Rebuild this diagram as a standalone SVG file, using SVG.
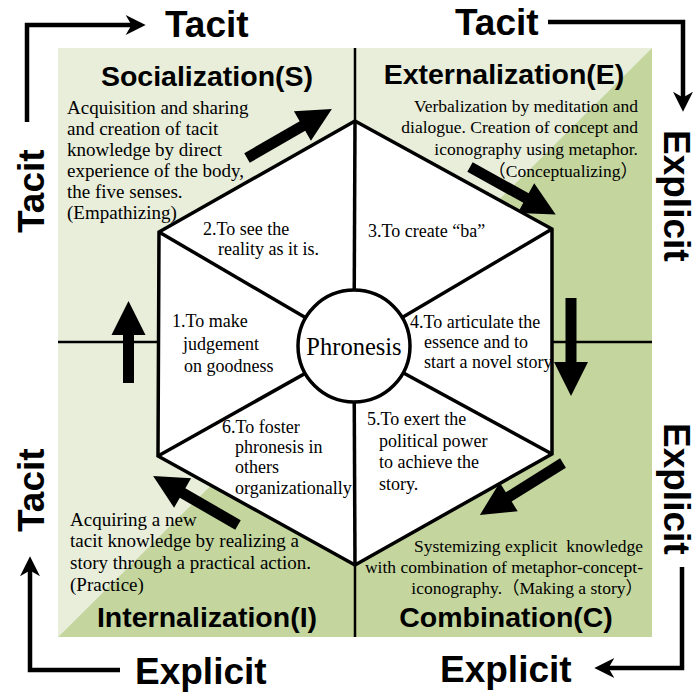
<svg xmlns="http://www.w3.org/2000/svg" width="696" height="696" viewBox="0 0 696 696">
  <style>
    .title { font-family: "Liberation Sans", Arial, sans-serif; font-weight: bold; font-size: 28.5px; fill: #000; }
    .axis { font-family: "Liberation Sans", Arial, sans-serif; font-weight: bold; font-size: 37px; fill: #000; }
    .desc { font-family: "Liberation Serif", "Times New Roman", "Noto Sans CJK JP", serif; font-size: 19px; fill: #000; }
    .desc.sm { font-size: 17.5px; }
    .lbl { font-family: "Liberation Serif", "Times New Roman", serif; font-size: 18px; fill: #000; }
    .core { font-family: "Liberation Serif", "Times New Roman", serif; font-size: 24.5px; fill: #000; }
    .divider { stroke: #000; stroke-width: 2.5; fill: none; }
    .edge { stroke: #000; stroke-width: 3.5; fill: none; stroke-linejoin: miter; }
    .face { stroke: #000; stroke-width: 3.5; fill: #fff; stroke-linejoin: miter; }
    .flow { stroke: #000; stroke-width: 4.5; fill: none; }
    .fat { fill: #000; }
  </style>
  <defs>
    <marker id="head" markerUnits="userSpaceOnUse" markerWidth="30" markerHeight="28" viewBox="-26 -14 36 28" refX="-8" refY="0" orient="auto">
      <path d="M0,0 L-24,-12 L-17,0 L-24,12 Z" fill="#000"/>
    </marker>
    <!-- block arrow pointing along +x, tail at origin -->
    <polygon id="fatLong" points="0,-5.5 64,-5.5 64,-17 98,0 64,17 64,5.5 0,5.5"/>
    <polygon id="fatShort" points="0,-5.5 48,-5.5 48,-17 82,0 48,17 48,5.5 0,5.5"/>
  </defs>

  <!-- quadrant background -->
  <g id="background">
    <polygon points="58,48 652,48 58,637" fill="#e8eeda"/>
    <polygon points="652,48 652,637 58,637" fill="#c4d69e"/>
    <line class="divider" x1="355" y1="48" x2="355" y2="637"/>
    <line class="divider" x1="58" y1="342" x2="652" y2="342"/>
  </g>

  <!-- outer tacit/explicit cycle -->
  <g id="connectors">
    <path class="flow" d="M27,122 V25 H139" marker-end="url(#head)"/>
    <path class="flow" d="M548,22 H683 V105" marker-end="url(#head)"/>
    <path class="flow" d="M682,567 V668 H601" marker-end="url(#head)"/>
    <path class="flow" d="M120,670 H30 V563" marker-end="url(#head)"/>
    <use href="#fatLong" class="fat" transform="translate(247,158) rotate(-30)"/>
    <use href="#fatLong" class="fat" transform="translate(470,167) rotate(29)"/>
    <use href="#fatLong" class="fat" transform="translate(571,298) rotate(90)"/>
    <use href="#fatLong" class="fat" transform="translate(563,463) rotate(148)"/>
    <use href="#fatLong" class="fat" transform="translate(238,525) rotate(210)"/>
    <use href="#fatShort" class="fat" transform="translate(128.5,383) rotate(-90)"/>
  </g>

  <g id="axis-labels">
    <text class="axis" x="165" y="37">Tacit</text>
    <text class="axis" x="455" y="35">Tacit</text>
    <text class="axis" x="135" y="684">Explicit</text>
    <text class="axis" x="440" y="682">Explicit</text>
    <text class="axis" transform="translate(664,130) rotate(90)">Explicit</text>
    <text class="axis" transform="translate(664,423) rotate(90)">Explicit</text>
    <text class="axis" transform="translate(44,233) rotate(-90)">Tacit</text>
    <text class="axis" transform="translate(44,532) rotate(-90)">Tacit</text>
  </g>

  <g id="socialization">
    <text class="title" x="207" y="86" text-anchor="middle">Socialization(S)</text>
    <text class="desc" x="67" y="114">Acquisition and sharing</text>
    <text class="desc" x="67" y="135">and creation of tacit</text>
    <text class="desc" x="67" y="156">knowledge by direct</text>
    <text class="desc" x="67" y="177">experience of the body,</text>
    <text class="desc" x="67" y="198">the five senses.</text>
    <text class="desc" x="67" y="219">(Empathizing)</text>
  </g>

  <g id="externalization">
    <text class="title" x="504" y="84" text-anchor="middle">Externalization(E)</text>
    <text class="desc sm" x="638" y="112" text-anchor="end">Verbalization by meditation and</text>
    <text class="desc sm" x="638" y="133" text-anchor="end">dialogue. Creation of concept and</text>
    <text class="desc sm" x="638" y="155" text-anchor="end">iconography using metaphor.</text>
    <text class="desc sm" x="638" y="177" text-anchor="end">（Conceptualizing）</text>
  </g>

  <g id="internalization">
    <text class="desc" x="70" y="526">Acquiring a new</text>
    <text class="desc" x="70" y="547">tacit knowledge by realizing a</text>
    <text class="desc" x="70" y="569">story through a practical action.</text>
    <text class="desc" x="70" y="591">(Practice)</text>
    <text class="title" x="207" y="627" text-anchor="middle">Internalization(I)</text>
  </g>

  <g id="combination">
    <text class="desc sm" x="643" y="552" text-anchor="end">Systemizing explicit&#160; knowledge</text>
    <text class="desc sm" x="643" y="573" text-anchor="end">with combination of metaphor-concept-</text>
    <text class="desc sm" x="643" y="594" text-anchor="end">iconography.（Making a story）</text>
    <text class="title" x="506" y="627" text-anchor="middle">Combination(C)</text>
  </g>

  <!-- hexagon of the six phronesis abilities -->
  <g id="hexagon">
    <polygon class="face" points="355,121 552,229 552,454 355,565 158,456 159,232"/>
    <line class="edge" x1="355" y1="121" x2="354" y2="346"/>
    <line class="edge" x1="552" y1="229" x2="354" y2="346"/>
    <line class="edge" x1="552" y1="454" x2="354" y2="346"/>
    <line class="edge" x1="355" y1="565" x2="354" y2="346"/>
    <line class="edge" x1="158" y1="456" x2="354" y2="346"/>
    <line class="edge" x1="159" y1="232" x2="354" y2="346"/>
  </g>

  <g id="phronesis">
    <circle class="face" cx="354" cy="346" r="56"/>
    <text class="core" x="354" y="355" text-anchor="middle">Phronesis</text>
  </g>

  <g id="ability-1">
    <text class="lbl" x="172" y="327">1.To make</text>
    <text class="lbl" x="183" y="350">judgement</text>
    <text class="lbl" x="184" y="372">on goodness</text>
  </g>
  <g id="ability-2">
    <text class="lbl" x="203" y="235">2.To see the</text>
    <text class="lbl" x="218" y="255">reality as it is.</text>
  </g>
  <g id="ability-3">
    <text class="lbl" x="368" y="237">3.To create “ba”</text>
  </g>
  <g id="ability-4">
    <text class="lbl" x="410" y="328">4.To articulate the</text>
    <text class="lbl" x="424" y="348">essence and to</text>
    <text class="lbl" x="424" y="368">start a novel story</text>
  </g>
  <g id="ability-5">
    <text class="lbl" x="367" y="425">5.To exert the</text>
    <text class="lbl" x="379" y="447">political power</text>
    <text class="lbl" x="379" y="468">to achieve the</text>
    <text class="lbl" x="379" y="490">story.</text>
  </g>
  <g id="ability-6">
    <text class="lbl" x="222" y="433">6.To foster</text>
    <text class="lbl" x="235" y="453">phronesis in</text>
    <text class="lbl" x="235" y="473">others</text>
    <text class="lbl" x="235" y="494">organizationally</text>
  </g>
</svg>
